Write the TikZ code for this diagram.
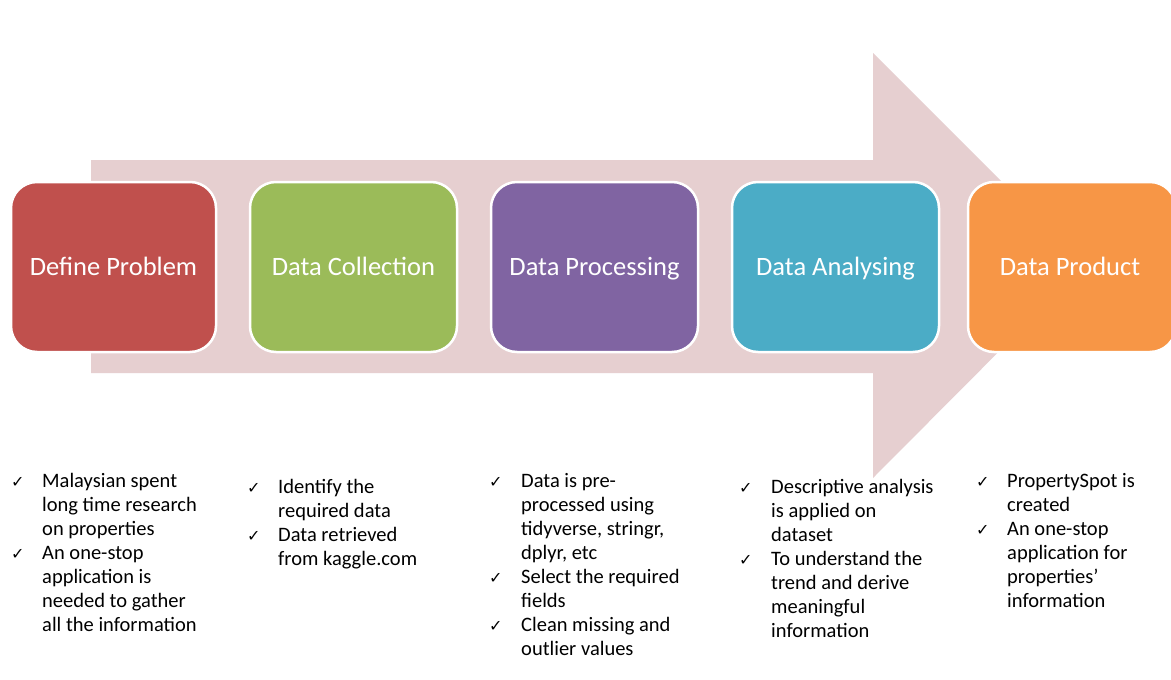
\documentclass[tikz,border=0pt]{standalone}
\usepackage{fontspec}
\setmainfont{Carlito}
\newfontfamily\symfont{DejaVu Sans}
\definecolor{arrowpink}{RGB}{230,207,208}
\definecolor{cred}{RGB}{192,80,77}
\definecolor{cgreen}{RGB}{155,187,89}
\definecolor{cpurple}{RGB}{128,100,162}
\definecolor{cteal}{RGB}{75,172,198}
\definecolor{corange}{RGB}{247,150,70}
\tikzset{
  stagebox/.style={draw=white, line width=2.5pt, rounded corners=26pt},
  stagelabel/.style={text=white, font=\fontsize{26.5}{30}\selectfont, anchor=base, inner sep=0},
  chk/.style={font=\symfont\fontsize{16}{24}\selectfont, anchor=base west, inner sep=0},
  item/.style={font=\fontsize{20.5}{24}\selectfont, anchor=north west, inner sep=0, align=left}
}
\begin{document}
\begin{tikzpicture}[x=1pt,y=-1pt]
\useasboundingbox (0,0) rectangle (1171,680);
\fill[white] (0,0) rectangle (1171,680);
% big arrow
\fill[arrowpink] (91,160) -- (873,160) -- (873,53) -- (1085,265) -- (873,478) -- (873,373) -- (91,373) -- cycle;
% boxes
\filldraw[stagebox, fill=cred] (11,182) rectangle (216,352);
\filldraw[stagebox, fill=cgreen] (250,182) rectangle (457,352);
\filldraw[stagebox, fill=cpurple] (491,182) rectangle (698,352);
\filldraw[stagebox, fill=cteal] (732,182) rectangle (939,352);
\filldraw[stagebox, fill=corange] (968,182) rectangle (1176,352);
\node[stagelabel] (s1) at (113.5,275) {Define Problem};
\node[stagelabel] (s2) at (353.5,275) {Data Collection};
\node[stagelabel] (s3) at (594.5,275) {Data Processing};
\node[stagelabel] (s4) at (835.5,275) {Data Analysing};
\node[stagelabel] (s5) at (1070,275) {Data Product};
% list 1
\node[chk] (c11) at (11,487) {✓};
\node[item] (t11) at (42,470.2) {\strut Malaysian spent\\long time research\\on properties};
\node[chk] (c12) at (11,559) {✓};
\node[item] (t12) at (42,542.2) {\strut An one-stop\\application is\\needed to gather\\all the information};
% list 2
\node[chk] (c21) at (247,493) {✓};
\node[item] (t21) at (278,476.2) {\strut Identify the\\required data};
\node[chk] (c22) at (247,541) {✓};
\node[item] (t22) at (278,524.2) {\strut Data retrieved\\from kaggle.com};
% list 3
\node[chk] (c31) at (489,487) {✓};
\node[item] (t31) at (521,470.2) {\strut Data is pre-\\processed using\\tidyverse, stringr,\\dplyr, etc};
\node[chk] (c32) at (489,583) {✓};
\node[item] (t32) at (521,566.2) {\strut Select the required\\fields};
\node[chk] (c33) at (489,631) {✓};
\node[item] (t33) at (521,614.2) {\strut Clean missing and\\outlier values};
% list 4
\node[chk] (c41) at (739,493) {✓};
\node[item] (t41) at (771,476.2) {\strut Descriptive analysis\\is applied on\\dataset};
\node[chk] (c42) at (739,565) {✓};
\node[item] (t42) at (771,548.2) {\strut To understand the\\trend and derive\\meaningful\\information};
% list 5
\node[chk] (c51) at (976,487) {✓};
\node[item] (t51) at (1007,470.2) {\strut PropertySpot is\\created};
\node[chk] (c52) at (976,535) {✓};
\node[item] (t52) at (1007,518.2) {\strut An one-stop\\application for\\properties’\\information};
\end{tikzpicture}
\end{document}
